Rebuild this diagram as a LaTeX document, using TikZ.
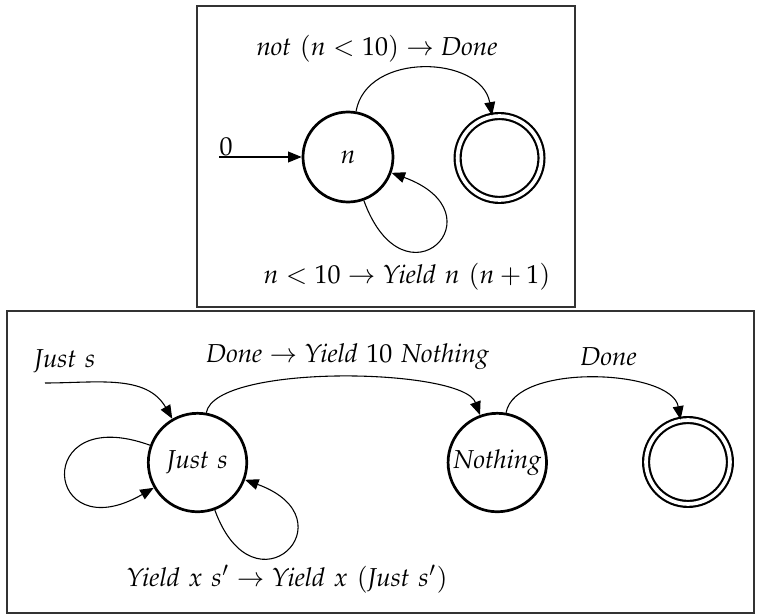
\documentclass[tikz,border=0pt]{standalone}
\usepackage{mathpazo}
\usetikzlibrary{arrows.meta,positioning}

\begin{document}
\begin{tikzpicture}[
  font=\fontsize{9.6}{11.5}\selectfont,
  state/.style={circle, draw, line width=1pt, inner sep=0pt, minimum size=1.17cm},
  wstate/.style={state, minimum size=1.28cm},
  accepting/.style={circle, draw, line width=0.8pt, double, double distance=1.4pt, inner sep=0pt, minimum size=1.09cm},
  trans/.style={-{Triangle[length=5pt,width=4pt]}, line width=0.4pt},
  frame/.style={draw=black!80, line width=0.6pt},
  lbl/.style={inner sep=0pt}
]
  \useasboundingbox (0,0) rectangle (9.841,-7.982);

  % Rahmen
  \draw[frame] (2.561,-0.078) rectangle (7.475,-3.991);
  \draw[frame] (0.091,-4.043) rectangle (9.802,-7.969);

  % Nodes (horni automat)
  \node[state] (n) at (4.524,-2.041) {$n$};
  \node[accepting] (done1) at (6.494,-2.054) {};
  \coordinate (init1) at (2.847,-2.041);

  \node[lbl] (zero) at (2.938,-1.905) {$0$};
  \node[lbl] (guard1) at (4.901,-0.631) {$\mathit{not}\ (n<10) \rightarrow \mathit{Done}$};
  \node[lbl] (step1) at (5.291,-3.601) {$n<10 \rightarrow \mathit{Yield}\ n\ (n+1)$};

  % Edges (horni automat)
  \draw[trans] (init1) -- (n);
  \draw[trans] (n) to[out=80, in=100, looseness=1.15] (done1);
  \draw[trans] (n.290) .. controls +(-70:1.55) and +(-20:1.55) .. (n.340);

  % Nodes (dolni automat)
  \node[wstate] (js) at (2.568,-6.013) {$\mathit{Just}\ s$};
  \node[wstate] (nothing) at (6.465,-6.013) {$\mathit{Nothing}$};
  \node[accepting] (done2) at (8.944,-6.006) {};
  \coordinate (init2) at (0.585,-4.979);

  \node[lbl] (justlbl) at (0.845,-4.700) {$\mathit{Just}\ s$};
  \node[lbl] (guard2) at (4.518,-4.640) {$\mathit{Done} \rightarrow \mathit{Yield}\ 10\ \mathit{Nothing}$};
  \node[lbl] (guard3) at (7.911,-4.635) {$\mathit{Done}$};
  \node[lbl] (step2) at (3.731,-7.527) {$\mathit{Yield}\ x\ s' \rightarrow \mathit{Yield}\ x\ (\mathit{Just}\ s')$};

  % Edges (dolni automat)
  \draw[trans] (init2) to[out=0, in=120] (js);
  \draw[trans] (js) to[out=80, in=110, looseness=0.47] (nothing);
  \draw[trans] (nothing) to[out=80, in=100, looseness=0.75] (done2);
  \draw[trans] (js.160) .. controls +(160:1.65) and +(210:1.65) .. (js.210);
  \draw[trans] (js.290) .. controls +(-70:1.5) and +(-20:1.5) .. (js.340);
\end{tikzpicture}
\end{document}
